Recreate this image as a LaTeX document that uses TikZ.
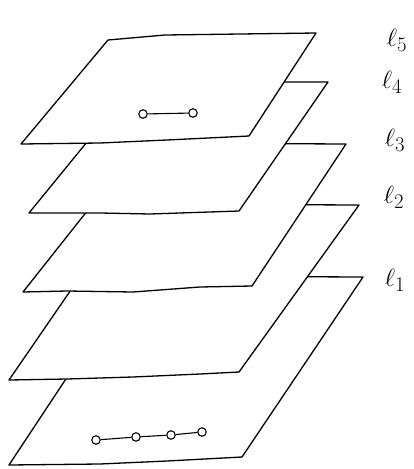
\documentclass[tikz,border=0pt]{standalone}
\usepackage{amsmath}
\usepackage{tikz}
\usetikzlibrary{positioning}

\begin{document}
\begin{tikzpicture}[x=1pt, y=-1pt,
  plane/.style={draw=black, fill=white, line width=1.3pt, line join=round},
  site/.style={circle, draw=black, fill=white, line width=1.1pt, inner sep=0pt, minimum size=8.5pt},
  bond/.style={draw=black, line width=1.1pt},
  lbl/.style={font=\fontsize{28}{30}\selectfont, inner sep=0pt}]
\useasboundingbox (0,0) rectangle (413,469);

% planes, lowest first so the upper ones hide them
\draw[plane] (134,276) -- (363,277) -- (242,457) -- (167,461) -- (100,464) -- (9,465) -- cycle;
\draw[plane] (130,204) -- (359,205) -- (239,372) -- (200,374) -- (133,377) -- (67,379) -- (9,380) -- cycle;
\draw[plane] (141,143) -- (346,144) -- (252,286) -- (200,287) -- (133,292) -- (67,291) -- (23,292) -- cycle;
\draw[plane] (136,82) -- (328,82) -- (239,211) -- (150,214) -- (100,213) -- (29,213) -- cycle;
\draw[plane] (108,40) -- (165,35) -- (316,33) -- (249,136) -- (167,140) -- (100,143) -- (21,144) -- cycle;

% sites on the top plane
\node[site] (t1) at (143,114) {};
\node[site] (t2) at (193,113) {};
\draw[bond] (t1) -- (t2);

% sites on the bottom plane
\node[site] (b1) at (96,440) {};
\node[site] (b2) at (136,437) {};
\node[site] (b3) at (171,435) {};
\node[site] (b4) at (202,432) {};
\draw[bond] (b1) -- (b2);
\draw[bond] (b2) -- (b3);
\draw[bond] (b3) -- (b4);

% layer labels
\node[lbl] (l5) at (397,40) {$\ell_5$};
\node[lbl] (l4) at (392,82) {$\ell_4$};
\node[lbl] (l3) at (395,140) {$\ell_3$};
\node[lbl] (l2) at (394,197) {$\ell_2$};
\node[lbl] (l1) at (395,280) {$\ell_1$};
\end{tikzpicture}
\end{document}
